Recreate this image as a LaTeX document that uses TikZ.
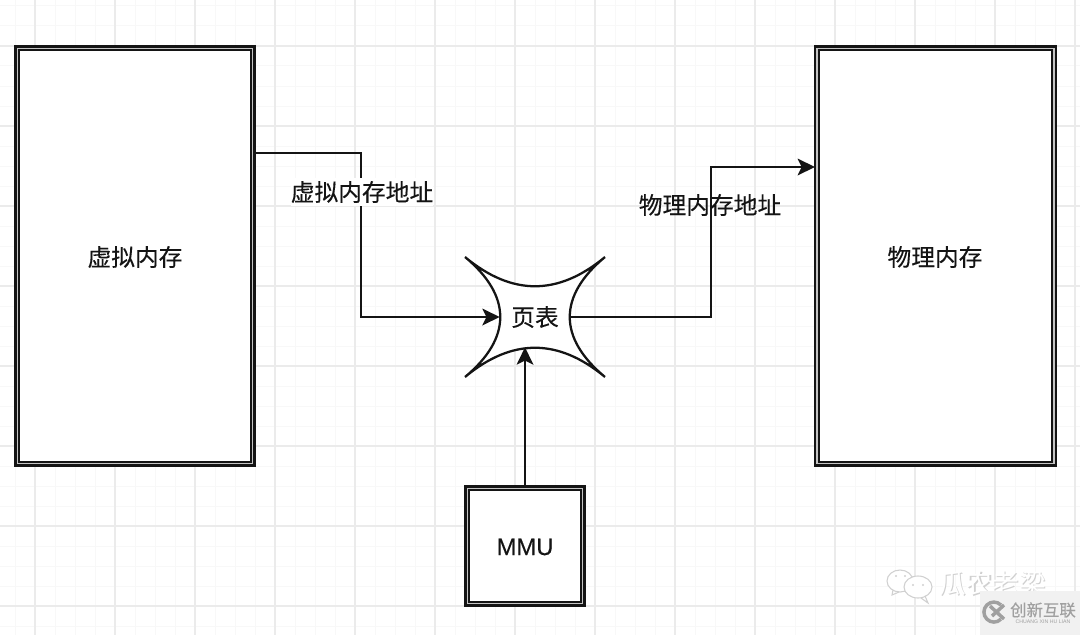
\documentclass[tikz,border=0pt]{standalone}
\usepackage{fontspec}
\setmainfont[FakeBold=0.25]{Liberation Sans}
\newfontfamily\plainlatin{Liberation Sans}
\newfontfamily\cjk[FakeBold=0.25]{Noto Sans CJK SC}
\newfontfamily\cjkplain{Noto Sans CJK SC}
\usetikzlibrary{arrows.meta}
\definecolor{gridminor}{HTML}{F8F8F8}
\definecolor{gridmajor}{HTML}{EBEBEB}
\definecolor{ink}{HTML}{141414}
\definecolor{gapgray}{HTML}{C4C4C4}
\definecolor{wmbox}{HTML}{F1F1F1}
\definecolor{wmgray}{HTML}{A0A0A0}
\definecolor{wmline}{HTML}{D0D0D0}
\tikzset{
  x=0.75pt,y=-0.75pt,
  doublebox/.style={draw=ink,line width=1.7pt,double=gapgray,double distance=1.1pt,fill=white,inner sep=0pt},
  label text/.style={font=\cjk\fontsize{17.8}{20}\selectfont,text=ink,inner sep=0pt},
  latin text/.style={font=\fontsize{17.8}{20}\selectfont,text=ink,inner sep=0pt},
  link/.style={draw=ink,line width=1.6pt,-{Stealth[length=13pt,width=12.5pt,inset=3pt]}},
  plain/.style={draw=ink,line width=1.7pt},
  bubble/.style={draw=wmline,line width=0.8pt,fill=white},
  eye/.style={fill=wmline},
}
\begin{document}
\begin{tikzpicture}
\useasboundingbox (0,0) rectangle (1080,635);
\fill[white] (0,0) rectangle (1080,635);
% grid
\foreach \gx in {15,35,...,1075} \draw[gridminor,line width=0.75pt] (\gx,0) -- (\gx,635);
\foreach \gy in {6,26,...,626} \draw[gridminor,line width=0.75pt] (0,\gy) -- (1080,\gy);
\foreach \gx in {35,115,...,1075} \draw[gridmajor,line width=0.9pt] (\gx,0) -- (\gx,635);
\foreach \gy in {46,126,...,606} \draw[gridmajor,line width=0.9pt] (0,\gy) -- (1080,\gy);
% boxes
\node[doublebox,minimum width=176.5pt,minimum height=311.5pt] (vm) at (135,256) {};
\node[doublebox,minimum width=177.5pt,minimum height=311.5pt] (pm) at (935.5,256) {};
\node[doublebox,minimum width=86.5pt,minimum height=86.5pt] (mmu) at (525,546) {};
\node[label text] at (135,257) (vmt) {虚拟内存};
\node[label text] at (935,257) (pmt) {物理内存};
\node[latin text] at (525,547) (mmut) {MMU};
% star
\fill[white] (465,257) .. controls (512,296) and (558,296) .. (605,257)
  .. controls (558,296) and (558,338) .. (605,377)
  .. controls (558,338) and (512,338) .. (465,377)
  .. controls (512,338) and (512,296) .. (465,257);
\draw[plain,line join=miter] (465,257) .. controls (512,296) and (558,296) .. (605,257)
  .. controls (558,296) and (558,338) .. (605,377)
  .. controls (558,338) and (512,338) .. (465,377)
  .. controls (512,338) and (512,296) .. (465,257) -- cycle;
\node[label text,minimum width=52.5pt,minimum height=45pt] (star) at (535,317) {页表};
% connectors
\coordinate (vout) at (255,153);
\coordinate (pin) at (815,167);
\draw[link] (vout) -- (361,153) -- (361,317) -- (star.west);
\draw[link] (star.east) -- (711,317) -- (711,167) -- (pin);
\draw[link] (mmu.north) -- (mmu.north |- star.south);
\node[label text,fill=white,minimum height=21.5pt] (vlabel) at (362,192) {虚拟内存地址};
\node[label text] (plabel) at (710,205) {物理内存地址};
% watermark
\draw[bubble] (900,581) ellipse (13 and 11);
\draw[wmline,line width=0.8pt] (893,590) -- (892,595) -- (899,592);
\draw[bubble] (918,587) ellipse (14 and 11);
\draw[wmline,line width=0.8pt] (925,596) -- (928,603) -- (921,598);
\fill[eye] (896,576) circle (1.2) (905,576) circle (1.2) (913,585) circle (1.2) (923,585) circle (1.2);
\node[font=\cjkplain\fontsize{20}{22}\selectfont,text=wmline,inner sep=0pt] (wmshadow) at (993.7,584.7) {瓜农老梁};
\node[font=\cjkplain\fontsize{20}{22}\selectfont,text=white,inner sep=0pt] (wmtext) at (992.5,583.5) {瓜农老梁};
\fill[wmbox] (980,591) rectangle (1080,635);
\draw[wmgray,line width=2.6pt] (1001,605) arc[start angle=-45,end angle=-315,radius=10];
\draw[wmgray,line width=2.6pt] (990,606) -- (1004,619) (1004,605) -- (992,616);
\node[font=\cjk\fontsize{12.3}{14}\selectfont,text=wmgray,inner sep=0pt] (wmcx) at (1043,610) {创新互联};
\node[font=\plainlatin\fontsize{3.9}{5}\selectfont,text=wmgray,inner sep=0pt] (wmpy) at (1043,622) {CHUANG XIN HU LIAN};
\end{tikzpicture}
\end{document}
